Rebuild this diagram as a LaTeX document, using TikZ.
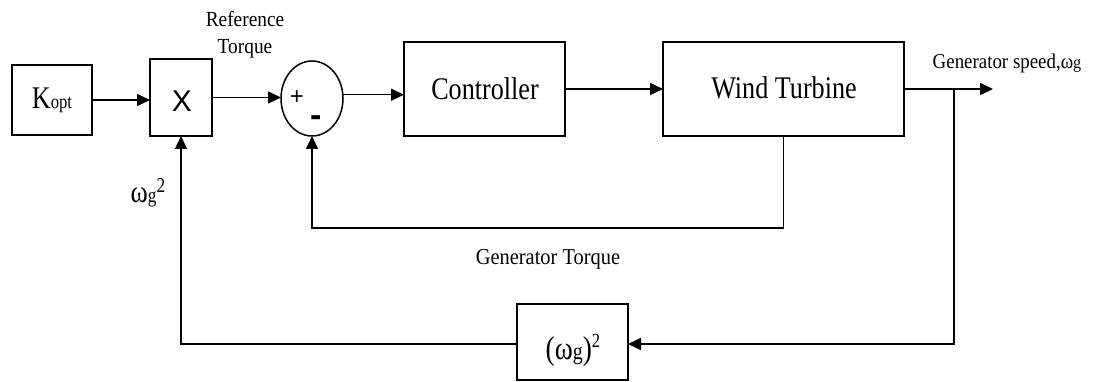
\documentclass[tikz,border=0pt]{standalone}
\usepackage{fontspec}
\setmainfont{Liberation Serif}
\newfontfamily\bigf[FakeStretch=0.83]{Liberation Serif}
\newfontfamily\smf[FakeStretch=0.9]{Liberation Serif}
\newfontfamily\sansf{Liberation Sans}
\usetikzlibrary{arrows.meta,shapes.geometric,calc}
\begin{document}
\begin{tikzpicture}[x=1pt,y=-1pt,
  line width=1.5pt,
  box/.style={draw, line width=1.5pt, inner sep=0pt, outer sep=0pt},
  lbl/.style={inner sep=0pt, outer sep=0pt, anchor=base},
  arr/.style={-{Triangle[length=13pt,width=12pt]}}]
\useasboundingbox (0,0) rectangle (1093,382);
% boxes
\node[box, minimum width=80pt, minimum height=70pt] (kopt) at (52,100) {};
\node[box, minimum width=62pt, minimum height=77pt] (mult) at (181,97.5) {};
\node[box, ellipse, minimum width=62pt, minimum height=75pt] (sum) at (312,98.5) {};
\node[box, minimum width=161pt, minimum height=94pt] (ctrl) at (484.5,89) {};
\node[box, minimum width=241pt, minimum height=94pt] (wt) at (783.5,89) {};
\node[box, minimum width=111pt, minimum height=76pt] (sq) at (572.5,342) {};
% texts
\node[lbl, font=\bigf\fontsize{31.5}{36}\selectfont] (kopttxt) at (52,108.3) {K{\fontsize{20}{22}\selectfont opt}};
\node[lbl, font=\sansf\fontsize{30}{34}\selectfont] (multtxt) at (182,111.7) {X};
\node[inner sep=0pt, font=\sansf\fontsize{24}{28}\selectfont] (plus) at (297,98) {+};
\node[inner sep=0pt, font=\sansf\bfseries\fontsize{34}{38}\selectfont] (minus) at (315.7,120.7) {-};
\node[lbl, font=\bigf\fontsize{31.5}{36}\selectfont] (ctrltxt) at (485,99.3) {Controller};
\node[lbl, font=\bigf\fontsize{31.5}{36}\selectfont] (wttxt) at (784,98.3) {Wind Turbine};
\node[inner sep=0pt, align=center, font=\smf\fontsize{21.5}{27}\selectfont] (reftxt) at (245,34.5) {Reference\\Torque};
\node[lbl, font=\smf\fontsize{22.7}{27}\selectfont] (gttxt) at (548,265) {Generator Torque};
\node[lbl, font=\smf\fontsize{21}{25}\selectfont] (gstxt) at (1007,68.3) {Generator speed,ω{\fontsize{18}{22}\selectfont g}};
\node[lbl, font=\bigf\fontsize{31.5}{36}\selectfont] (wg2) at (148,203) {ω{\fontsize{21}{24}\selectfont g\raisebox{10pt}{2}}};
\node[lbl, font=\bigf\fontsize{33}{38}\selectfont] (sqtxt) at (573,359.3) {(ω{\fontsize{24}{28}\selectfont g})\raisebox{12pt}{\fontsize{20}{22}\selectfont 2}};
% coordinates
\coordinate (out) at (993,89);
\coordinate (br) at (954,89);
\coordinate (brd) at (954,344);
\coordinate (fb) at (783.5,228);
% connectors
\draw[arr] (kopt.east) -- (kopt.east -| mult.west);
\draw[arr] (mult.east) -- (mult.east -| sum.west);
\draw[arr] (sum.7) -- (sum.7 -| ctrl.west);
\draw[arr] (ctrl.east) -- (wt.west);
\draw[arr] (wt.east) -- (out);
\draw[arr] (wt.south) -- (fb) -| (sum.south);
\draw[arr] (br) -- (brd) -- (brd -| sq.east);
\draw[arr] (sq.west |- brd) -| (mult.south);
\end{tikzpicture}
\end{document}
